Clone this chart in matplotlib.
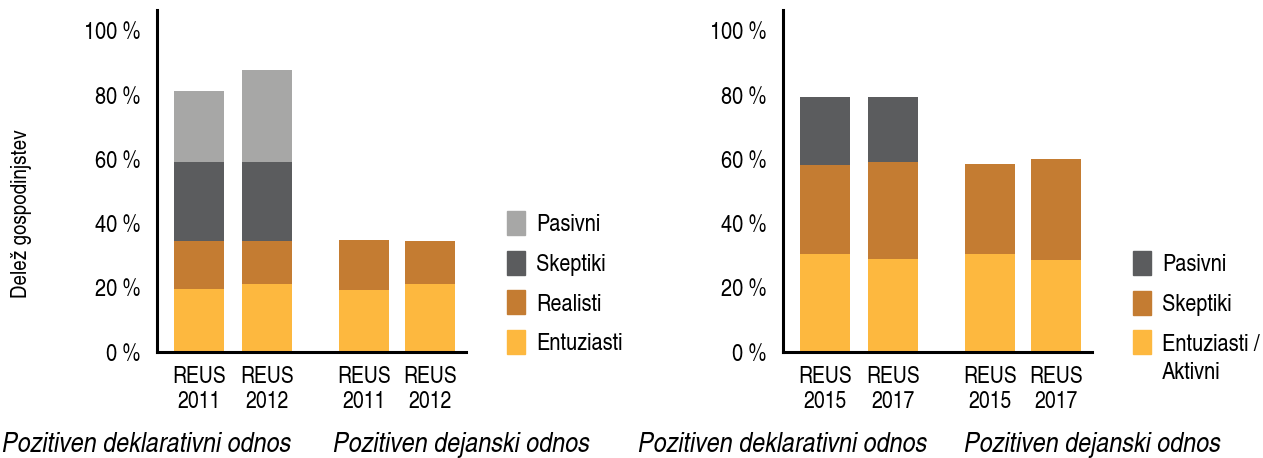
import matplotlib.pyplot as plt
from matplotlib.patches import Patch

plt.rcParams['font.family'] = ['TeX Gyre Heros Cn', 'DejaVu Sans']

# Data (percent of households)
left_labels = ['REUS\n2011', 'REUS\n2012', 'REUS\n2011', 'REUS\n2012']
left_entuziasti = [19.6, 21.2, 19.3, 21.2]
left_realisti = [15.0, 13.4, 15.6, 13.4]
left_skeptiki = [24.6, 24.6, 0, 0]
left_pasivni = [22.1, 28.6, 0, 0]

right_labels = ['REUS\n2015', 'REUS\n2017', 'REUS\n2015', 'REUS\n2017']
right_entuziasti = [30.5, 29.0, 30.5, 28.7]
right_skeptiki = [27.8, 30.2, 28.1, 31.4]
right_pasivni = [21.1, 20.2, 0, 0]

group_names = ['Pozitiven deklarativni odnos', 'Pozitiven dejanski odnos']

c_yellow = '#fdb83f'
c_orange = '#c47c32'
c_dark = '#5b5c5e'
c_light = '#a7a7a6'

x = [0, 1, 2.43, 3.4]
w = 0.735

fig = plt.figure(figsize=(12.63, 4.58), dpi=100)
ax1 = fig.add_axes([0.1243, 0.2314, 0.2447, 0.747])
ax2 = fig.add_axes([0.62, 0.2314, 0.2447, 0.747])


def stack(ax, layers, colors):
    bottom = [0] * len(x)
    for vals, col in zip(layers, colors):
        ax.bar(x, vals, w, bottom=bottom, color=col)
        bottom = [b + v for b, v in zip(bottom, vals)]


stack(ax1, [left_entuziasti, left_realisti, left_skeptiki, left_pasivni],
      [c_yellow, c_orange, c_dark, c_light])
stack(ax2, [right_entuziasti, right_skeptiki, right_pasivni],
      [c_yellow, c_orange, c_dark])

for ax, labels in [(ax1, left_labels), (ax2, right_labels)]:
    ax.set_xlim(-0.618, 3.926)
    ax.set_ylim(0, 106.5)
    ax.set_yticks([0, 20, 40, 60, 80, 100])
    ax.set_yticklabels(['%d %%' % v for v in [0, 20, 40, 60, 80, 100]], fontsize=17.5)
    ax.set_xticks(x)
    ax.set_xticklabels(labels, fontsize=17, linespacing=1.2)
    ax.tick_params(length=0, pad=12)
    ax.tick_params(axis='x', pad=10)
    for s in ['top', 'right']:
        ax.spines[s].set_visible(False)
    for s in ['left', 'bottom']:
        ax.spines[s].set_linewidth(2.2)

fig.text(22 / 1263, 1 - 214 / 458, 'Delež gospodinjstev', rotation=90,
         ha='center', va='center', fontsize=16.5)

# group captions under the axes
for cx, name in zip([147, 461, 783, 1092], group_names * 2):
    fig.text(cx / 1263, 1 - 445 / 458, name, ha='center', va='center',
             fontsize=20.5, style='italic')

# legends
leg_kw = dict(loc='upper left', frameon=False, fontsize=17.5, handlelength=0.74,
              handleheight=1.13, handletextpad=0.45, borderpad=0, borderaxespad=0)
h1 = [Patch(color=c_light), Patch(color=c_dark), Patch(color=c_orange), Patch(color=c_yellow)]
fig.legend(h1, ['Pasivni', 'Skeptiki', 'Realisti', 'Entuziasti'],
           bbox_to_anchor=(507 / 1263, 1 - 211 / 458), labelspacing=0.6, **leg_kw)

h2 = [Patch(color=c_dark), Patch(color=c_orange), Patch(color=c_yellow)]
leg2 = fig.legend(h2, ['Pasivni', 'Skeptiki', 'Entuziasti /'],
                  bbox_to_anchor=(1133 / 1263, 1 - 251 / 458), labelspacing=0.6, **leg_kw)

# second line of the last label, placed under "Entuziasti /"
fig.canvas.draw()
bb = leg2.get_texts()[2].get_window_extent()
fig.text(bb.x0 / fig.bbox.width, (bb.y0 - 28) / fig.bbox.height, 'Aktivni',
         ha='left', va='bottom', fontsize=17.5)

fig.savefig('out.png', dpi=100)
